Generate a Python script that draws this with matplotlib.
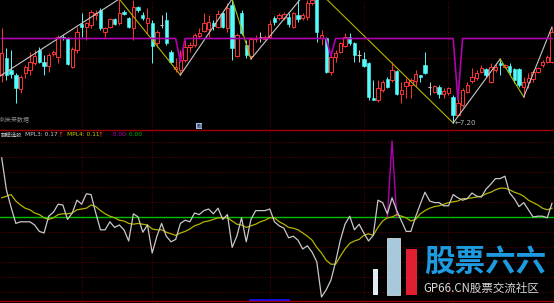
import numpy as np
import matplotlib
matplotlib.use('Agg')
import matplotlib.pyplot as plt
from matplotlib.patches import Rectangle
from matplotlib.lines import Line2D

plt.rcParams['font.family'] = ['Noto Sans CJK SC', 'DejaVu Sans']

W, H = 554, 303

# daily candles
opens = [8.16, 8.50, 8.26, 8.16, 7.88, 8.20, 8.26, 8.40, 8.66, 8.42,
         8.34, 8.58, 8.52, 8.92, 8.90, 8.32, 8.66, 9.18, 9.12, 9.16,
         9.36, 9.46, 9.02, 9.12, 9.28, 9.20, 9.42, 9.30, 9.10, 9.52,
         9.36, 9.20, 9.20, 8.80, 9.16, 9.26, 8.62, 8.28, 8.26, 8.46,
         8.72, 8.76, 8.94, 9.04, 9.08, 9.20, 9.12, 9.40, 9.10, 9.56,
         8.54, 9.40, 8.76, 8.54, 8.88, 8.92, 8.88, 8.92, 9.30, 9.30,
         9.30, 9.32, 9.12, 9.36, 9.30, 9.32, 9.60, 9.76, 8.90, 8.90,
         8.22, 8.52, 8.62, 8.74, 8.92, 8.80, 8.56, 8.48, 8.40, 7.70,
         7.66, 7.86, 8.08, 8.06, 8.24, 7.78, 7.94, 7.96, 8.04, 8.16,
         8.36, 7.92, 7.82, 7.92, 7.78, 7.80, 7.72, 7.36, 7.56, 7.82,
         8.04, 8.10, 8.22, 8.28, 8.02, 8.26, 8.40, 8.32, 8.34, 8.28,
         8.28, 7.92, 8.02, 8.08, 8.22, 8.36, 8.42, 8.42]
highs = [9.10, 8.70, 8.66, 8.20, 8.16, 8.36, 8.62, 8.66, 8.72, 8.56,
         8.60, 8.66, 8.96, 8.96, 8.92, 8.72, 9.12, 9.40, 9.22, 9.46,
         9.46, 9.50, 9.12, 9.30, 9.30, 9.68, 9.46, 9.32, 9.66, 9.54,
         9.42, 9.50, 9.26, 9.06, 9.36, 9.42, 8.66, 8.50, 8.66, 8.86,
         8.82, 9.00, 9.10, 9.40, 9.36, 9.26, 9.46, 9.42, 9.60, 9.68,
         9.00, 9.46, 8.86, 8.92, 8.96, 9.02, 8.96, 9.26, 9.34, 9.40,
         9.42, 9.40, 9.42, 9.66, 9.40, 9.66, 9.96, 9.82, 9.06, 8.92,
         8.66, 8.66, 8.82, 9.00, 9.00, 8.82, 8.66, 8.62, 8.42, 8.06,
         8.06, 8.06, 8.12, 8.42, 8.26, 8.02, 8.10, 8.10, 8.26, 8.16,
         8.62, 8.02, 7.96, 7.96, 7.90, 7.92, 7.76, 7.96, 7.90, 8.02,
         8.30, 8.26, 8.36, 8.30, 8.40, 8.40, 8.48, 8.38, 8.40, 8.30,
         8.30, 8.12, 8.20, 8.26, 8.32, 8.46, 8.56, 9.12]
lows = [8.02, 8.06, 8.10, 7.60, 7.80, 8.10, 8.16, 8.36, 8.40, 8.16,
        8.22, 8.54, 8.40, 8.86, 8.36, 8.30, 8.60, 8.92, 8.86, 9.10,
        9.26, 9.06, 8.92, 9.10, 9.16, 9.16, 9.36, 9.10, 8.86, 9.42,
        9.26, 9.00, 8.40, 8.72, 9.10, 8.76, 8.40, 8.22, 8.16, 8.42,
        8.62, 8.72, 8.90, 9.02, 8.92, 9.06, 9.10, 9.10, 9.02, 8.46,
        8.52, 8.96, 8.50, 8.48, 8.82, 8.82, 8.86, 8.90, 9.16, 9.26,
        9.26, 9.12, 9.10, 9.22, 9.26, 9.26, 9.56, 8.82, 8.76, 8.20,
        8.16, 8.42, 8.60, 8.72, 8.76, 8.42, 8.42, 8.32, 7.66, 7.66,
        7.62, 7.82, 7.90, 8.02, 7.76, 7.60, 7.70, 7.70, 7.92, 8.02,
        8.18, 7.76, 7.80, 7.70, 7.70, 7.76, 7.20, 7.36, 7.52, 7.80,
        8.00, 8.06, 8.20, 8.12, 8.00, 8.22, 8.16, 8.30, 8.16, 8.00,
        7.92, 7.72, 7.90, 8.02, 8.20, 8.32, 8.40, 8.40]
closes = [8.60, 8.16, 8.18, 7.90, 8.12, 8.32, 8.42, 8.54, 8.42, 8.34,
          8.56, 8.62, 8.92, 8.90, 8.38, 8.68, 9.02, 9.12, 9.20, 9.42,
          9.40, 9.10, 9.10, 9.28, 9.18, 9.40, 9.38, 9.12, 9.52, 9.46,
          9.30, 9.30, 8.74, 9.02, 9.16, 8.80, 8.42, 8.32, 8.46, 8.72,
          8.76, 8.96, 9.00, 9.20, 9.22, 9.14, 9.38, 9.12, 9.50, 8.70,
          8.96, 9.00, 8.56, 8.88, 8.90, 8.92, 8.92, 9.18, 9.22, 9.36,
          9.38, 9.18, 9.40, 9.28, 9.36, 9.60, 9.66, 9.02, 8.96, 8.22,
          8.52, 8.60, 8.80, 8.92, 8.80, 8.56, 8.56, 8.34, 7.72, 7.66,
          7.90, 8.02, 7.92, 8.26, 7.78, 7.86, 8.02, 8.06, 8.18, 8.12,
          8.20, 7.92, 7.94, 7.78, 7.84, 7.90, 7.36, 7.60, 7.86, 7.96,
          8.12, 8.20, 8.30, 8.16, 8.32, 8.32, 8.36, 8.36, 8.22, 8.06,
          7.96, 8.02, 8.10, 8.22, 8.30, 8.42, 8.52, 9.02]

# zigzag pivots
zz_idx = [-2, 25, 38, 49, 53, 66, 96, 106, 111, 117]
zz_price = [8.04, 9.68, 8.16, 9.68, 8.48, 9.96, 7.20, 8.48, 7.72, 9.12]

# purple line with dips
purple_idx = [0, 37, 38, 39, 69, 70, 71, 96, 97, 98, 117]
purple_val = [8.89, 8.89, 8.42, 8.89, 8.89, 8.54, 8.89, 8.89, 7.66, 8.89, 8.89]

# lower panel
mpl3 = [0.74, 0.34, 0.12, -0.08, -0.06, -0.06, -0.06, -0.10, -0.18, -0.20,
        0.01, 0.06, 0.16, 0.15, -0.03, 0.05, 0.21, 0.16, 0.29, 0.28,
        0.05, -0.16, -0.16, -0.06, -0.13, -0.10, -0.16, -0.30, 0.04, 0.00,
        -0.19, -0.10, -0.45, -0.24, -0.08, -0.24, -0.31, -0.28, -0.08, -0.04,
        -0.06, 0.05, 0.03, 0.08, 0.10, 0.04, 0.11, -0.03, 0.03, -0.38,
        -0.24, -0.01, -0.31, -0.03, 0.08, 0.08, 0.08, 0.10, -0.06, -0.11,
        -0.14, -0.26, -0.24, -0.29, -0.40, -0.36, -0.44, -0.56, -1.00, -0.91,
        -0.79, -0.56, -0.29, -0.09, 0.01, -0.16, -0.09, -0.20, -0.30, -0.23,
        0.21, 0.18, 0.04, 0.24, 0.08, -0.05, -0.18, -0.18, 0.00, 0.16,
        0.31, 0.20, 0.18, 0.18, 0.14, 0.14, 0.28, 0.24, 0.21, 0.23,
        0.30, 0.26, 0.25, 0.35, 0.41, 0.48, 0.48, 0.51, 0.30, 0.23,
        0.13, 0.18, 0.09, 0.00, 0.01, 0.01, -0.01, 0.17]
mpl4 = [0.24, 0.26, 0.28, 0.20, 0.15, 0.11, 0.09, 0.05, 0.03, -0.01,
        -0.03, -0.01, 0.03, 0.04, 0.04, 0.05, 0.09, 0.10, 0.11, 0.15,
        0.13, 0.08, 0.04, 0.01, -0.01, -0.04, -0.05, -0.08, -0.09, -0.08,
        -0.09, -0.10, -0.15, -0.16, -0.16, -0.19, -0.21, -0.23, -0.20, -0.18,
        -0.15, -0.11, -0.09, -0.06, -0.05, -0.03, -0.01, -0.01, -0.01, -0.05,
        -0.09, -0.10, -0.13, -0.11, -0.09, -0.06, -0.04, -0.01, -0.01, -0.06,
        -0.09, -0.13, -0.14, -0.16, -0.20, -0.24, -0.29, -0.38, -0.45, -0.54,
        -0.59, -0.59, -0.49, -0.40, -0.33, -0.30, -0.28, -0.23, -0.21, -0.23,
        -0.13, -0.05, -0.01, 0.00, 0.03, 0.01, -0.01, -0.05, -0.03, 0.04,
        0.08, 0.11, 0.13, 0.14, 0.16, 0.18, 0.19, 0.20, 0.23, 0.23,
        0.24, 0.25, 0.26, 0.29, 0.31, 0.34, 0.36, 0.36, 0.34, 0.31,
        0.29, 0.26, 0.21, 0.18, 0.15, 0.11, 0.09, 0.11]
signal_idx = [82, 83, 84]
signal_val = [0.00, 0.95, 0.00]

grid_idx = [17, 32, 57, 77, 95]

RED = '#FF3434'
CYAN = '#54FCFC'
GRID = '#7A0000'


def fx(px):
    return px / W


def fy(py):
    return 1 - py / H


fig = plt.figure(figsize=(W / 100, H / 100), dpi=100, facecolor='black')
ax1 = fig.add_axes([0, fy(130), 1, 130 / H])
ax2 = fig.add_axes([0, fy(300), 1, 169 / H])
xlim = (-1.7 / 4.703, (W - 1.7) / 4.703)
for ax in (ax1, ax2):
    ax.set_facecolor('black')
    ax.set_xlim(*xlim)
    ax.axis('off')
    for g in grid_idx:
        ax.axvline(g, color=GRID, ls=(0, (1, 2)), lw=0.6, zorder=0)
ax1.set_ylim(7.06, 9.66)
ax2.set_ylim(-1.0375, 1.075)
ax1.axhline(8.50, color=GRID, ls=(0, (1, 2)), lw=0.6, zorder=0)
for v in np.arange(-5, 6) * 0.1875:
    if v != 0:
        ax2.axhline(v, color=GRID, ls=(0, (1, 2)), lw=0.6, zorder=0)

# candles
w = 0.72
for i in range(len(opens)):
    o, h, l, c = opens[i], highs[i], lows[i], closes[i]
    if c > o:
        ax1.vlines(i, l, o, color=RED, lw=0.7, zorder=2)
        ax1.vlines(i, c, h, color=RED, lw=0.7, zorder=2)
        ax1.add_patch(Rectangle((i - w / 2, o), w, c - o, facecolor='black',
                                edgecolor=RED, lw=0.7, zorder=3))
    elif c < o:
        ax1.vlines(i, l, h, color=CYAN, lw=0.7, zorder=2)
        ax1.add_patch(Rectangle((i - w / 2, c), w, o - c, facecolor=CYAN,
                                edgecolor=CYAN, lw=0.4, zorder=3))
    else:
        ax1.vlines(i, l, h, color='#C8C8C8', lw=0.7, zorder=2)
        ax1.hlines(o, i - w / 2, i + w / 2, color='#C8C8C8', lw=0.8, zorder=3)

# zigzag
for j in range(len(zz_idx) - 1):
    col = '#C8C8C8' if zz_price[j + 1] > zz_price[j] else '#B4B400'
    ax1.plot(zz_idx[j:j + 2], zz_price[j:j + 2], color=col, lw=0.8, zorder=4)
ax1.plot(purple_idx, purple_val, color='#B000B0', lw=1.2, zorder=5)
ax1.text(96.3, 7.20, '\u21907.20', color='#B4B4B4', fontsize=5, ha='left',
         va='center', family=['DejaVu Sans'], zorder=6)
ax1.text(0.0, 0.085, '刺未来数据', transform=ax1.transAxes, color='#8C8C8C',
         fontsize=4.3, ha='left', va='center')

# lower panel
x = np.arange(len(mpl3))
ax2.axhline(0, color='#00C000', lw=1.0, zorder=3)
ax2.plot(signal_idx, signal_val, color='#B000B0', lw=1.0, zorder=4)
ax2.plot(x, mpl4, color='#B4B400', lw=0.9, zorder=5)
ax2.plot(x, mpl3, color='#C8C8C8', lw=0.9, zorder=6)
ax2.plot([(250 - 1.7) / 4.703, (288 - 1.7) / 4.703], [-1.0375, -1.0375],
         color='#1010FF', lw=2, zorder=7, clip_on=False)

# borders
for py in (130.5, 300.5):
    fig.add_artist(Line2D([0, 1], [fy(py), fy(py)], color='#A00000', lw=1))

# legend row
ty = fy(135)
fig.text(fx(0.5), ty, '翻模选股', color='#C0C0C0', fontsize=3.9, va='center')
fig.text(fx(25), ty, 'MPL3: 0.17', color='#C8C8C8', fontsize=4.2, va='center',
         family=['DejaVu Sans'])
fig.text(fx(58), ty, '\u2191', color=RED, fontsize=5, va='center',
         family=['DejaVu Sans'])
fig.text(fx(67), ty, 'MPL4: 0.11', color='#C8C800', fontsize=4.2, va='center',
         family=['DejaVu Sans'])
fig.text(fx(98), ty, '\u2191', color=RED, fontsize=5, va='center',
         family=['DejaVu Sans'])
fig.text(fx(109), ty, '· 0.00', color='#C000C0', fontsize=4.2, va='center',
         family=['DejaVu Sans'])
fig.text(fx(125), ty, ': 0.00', color='#00C000', fontsize=4.2, va='center',
         family=['DejaVu Sans'])
fig.text(fx(199), fy(126), '刷', color='#202040', fontsize=3.5, ha='center',
         va='center', bbox=dict(boxstyle='square,pad=0.1', fc='#A0C0E0', ec='none'))

# watermark
fig.add_artist(Rectangle((fx(373), fy(295)), fx(5), 26 / H, transform=fig.transFigure,
                         fc='#E0ECF2', ec='none'))
fig.add_artist(Rectangle((fx(387), fy(295)), fx(13), 57 / H, transform=fig.transFigure,
                         fc='#A8C8DC', ec='#F0F0F0', lw=0.5))
fig.add_artist(Rectangle((fx(406), fy(295)), fx(11), 46 / H, transform=fig.transFigure,
                         fc='#E02030', ec='none'))
fig.text(fx(485), fy(262), '股票六六', color='#1E9BE0', fontsize=22,
         fontweight='bold', ha='center', va='center')
fig.text(fx(423), fy(288), 'GP66.CN股票交流社区', color='#D8D8D8', fontsize=8.3,
         ha='left', va='center')

fig.savefig('out.png', dpi=100, facecolor='black')
